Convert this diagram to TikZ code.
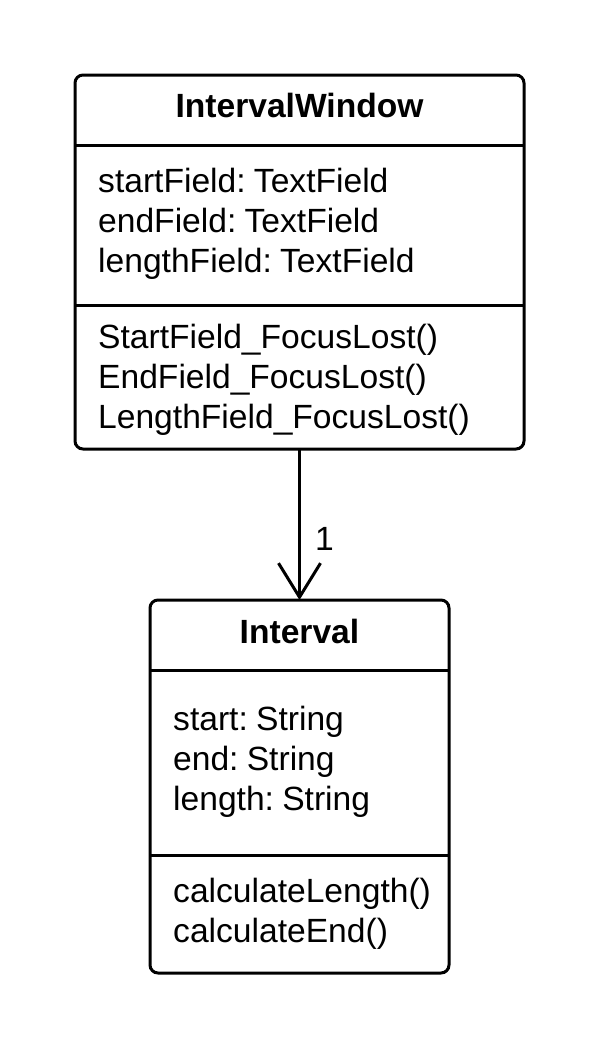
\documentclass[tikz,border=0pt]{standalone}
\usepackage{fontspec}
\setmainfont[WordSpace=0.55]{Liberation Sans}
\usetikzlibrary{arrows.meta}
\begin{document}
\begin{tikzpicture}[x=1pt,y=-1pt,
  umlbox/.style={draw=black, line width=3pt, rounded corners=8pt, inner sep=0pt, outer sep=0pt},
  divider/.style={line width=3pt},
  txt/.style={anchor=base west, inner sep=0pt, font=\fontsize{33.6}{40}\selectfont},
  ttl/.style={anchor=base, inner sep=0pt, font=\fontsize{33.6}{40}\selectfont\bfseries},
  assoc/.style={line width=3pt, -{Straight Barb[length=34pt, width=42pt, line width=3pt]}}]
\useasboundingbox (0,0) rectangle (600,1050);
% IntervalWindow
\node[umlbox, minimum width=449pt, minimum height=374pt] (iw) at (299.5,262) {};
\node[ttl] (iwt) at (299.5,117) {IntervalWindow};
\coordinate (iwd1l) at (75,145); \coordinate (iwd1r) at (524,145);
\coordinate (iwd2l) at (75,305); \coordinate (iwd2r) at (524,305);
\draw[divider] (iwd1l) -- (iwd1r);
\draw[divider] (iwd2l) -- (iwd2r);
\node[txt] (a1) at (98,192) {startField: TextField};
\node[txt] (a2) at (98,232) {endField: TextField};
\node[txt] (a3) at (98,272) {lengthField: TextField};
\node[txt] (m1) at (98,348) {StartField\_FocusLost()};
\node[txt] (m2) at (98,388) {EndField\_FocusLost()};
\node[txt] (m3) at (98,428) {LengthField\_FocusLost()};
% Interval
\node[umlbox, minimum width=299pt, minimum height=373pt] (iv) at (299.5,786.5) {};
\node[ttl] (ivt) at (299.5,643) {Interval};
\coordinate (ivd1l) at (150,670); \coordinate (ivd1r) at (449,670);
\coordinate (ivd2l) at (150,855); \coordinate (ivd2r) at (449,855);
\draw[divider] (ivd1l) -- (ivd1r);
\draw[divider] (ivd2l) -- (ivd2r);
\node[txt] (b1) at (173,730) {start: String};
\node[txt] (b2) at (173,770) {end: String};
\node[txt] (b3) at (173,810) {length: String};
\node[txt] (n1) at (173,902) {calculateLength()};
\node[txt] (n2) at (173,942) {calculateEnd()};
% association
\draw[assoc] (iw.south) -- (iv.north);
\node[txt] (mult) at (315,550) {1};
\end{tikzpicture}
\end{document}
